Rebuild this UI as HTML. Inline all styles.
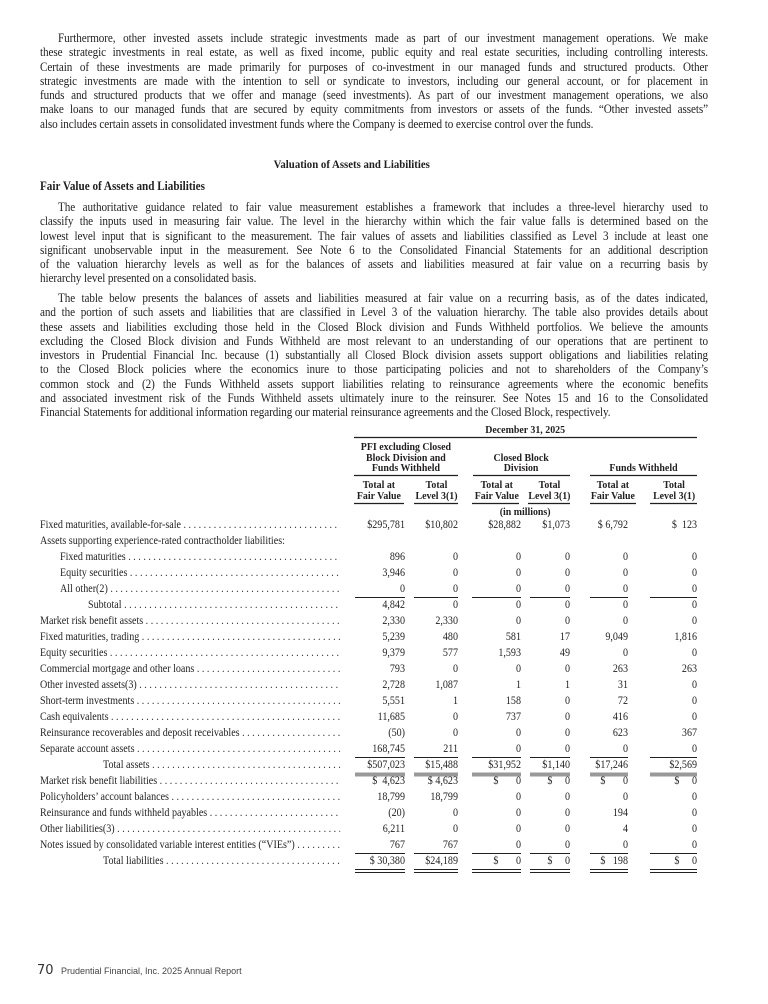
<!DOCTYPE html>
<html><head><meta charset="utf-8"><style>
html,body{margin:0;padding:0;background:#fff;}
body{width:768px;height:1004px;position:relative;overflow:hidden;color:#231f20;}
#w{position:absolute;left:0;top:0;width:853.33px;height:1004px;transform:scaleX(0.9);transform-origin:0 0;font-family:"Liberation Serif",serif;}
.p{position:absolute;left:44.44px;width:742.2px;font-size:12.4px;line-height:14.3px;letter-spacing:-0.1px;}
.p div{text-align:justify;text-align-last:justify;white-space:normal;height:14.3px;overflow:hidden;}
.p div.l{text-align-last:left;}
.t{position:absolute;font-size:11px;line-height:16px;white-space:nowrap;}
.lab{position:absolute;left:44.44px;width:331px;font-size:11.2px;line-height:16px;white-space:nowrap;overflow:hidden;}
.n{position:absolute;font-size:11.2px;line-height:16px;white-space:nowrap;text-align:right;}
.h{position:absolute;font-size:11px;line-height:10.5px;font-weight:bold;text-align:center;white-space:nowrap;}
svg{position:absolute;left:0;top:0;}
</style></head><body>
<div id="w">
<div class="p" style="top:31px">
<div style="text-indent:20px">Furthermore, other invested assets include strategic investments made as part of our investment management operations. We make</div>
<div>these strategic investments in real estate, as well as fixed income, public equity and real estate securities, including controlling interests.</div>
<div>Certain of these investments are made primarily for purposes of co-investment in our managed funds and structured products. Other</div>
<div>strategic investments are made with the intention to sell or syndicate to investors, including our general account, or for placement in</div>
<div>funds and structured products that we offer and manage (seed investments). As part of our investment management operations, we also</div>
<div>make loans to our managed funds that are secured by equity commitments from investors or assets of the funds. “Other invested assets”</div>
<div class="l">also includes certain assets in consolidated investment funds where the Company is deemed to exercise control over the funds.</div>
</div>
<div class="t" style="left:304px;top:156px;font-weight:bold;font-size:12px">Valuation of Assets and Liabilities</div>
<div class="t" style="left:44.44px;top:178px;font-weight:bold;font-size:12.4px">Fair Value of Assets and Liabilities</div>
<div class="p" style="top:200px">
<div style="text-indent:20px">The authoritative guidance related to fair value measurement establishes a framework that includes a three-level hierarchy used to</div>
<div>classify the inputs used in measuring fair value. The level in the hierarchy within which the fair value falls is determined based on the</div>
<div>lowest level input that is significant to the measurement. The fair values of assets and liabilities classified as Level 3 include at least one</div>
<div>significant unobservable input in the measurement. See Note 6 to the Consolidated Financial Statements for an additional description</div>
<div>of the valuation hierarchy levels as well as for the balances of assets and liabilities measured at fair value on a recurring basis by</div>
<div class="l">hierarchy level presented on a consolidated basis.</div>
</div>
<div class="p" style="top:291px">
<div style="text-indent:20px">The table below presents the balances of assets and liabilities measured at fair value on a recurring basis, as of the dates indicated,</div>
<div>and the portion of such assets and liabilities that are classified in Level 3 of the valuation hierarchy. The table also provides details about</div>
<div>these assets and liabilities excluding those held in the Closed Block division and Funds Withheld portfolios. We believe the amounts</div>
<div>excluding the Closed Block division and Funds Withheld are most relevant to an understanding of our operations that are pertinent to</div>
<div>investors in Prudential Financial Inc. because (1) substantially all Closed Block division assets support obligations and liabilities relating</div>
<div>to the Closed Block policies where the economics inure to those participating policies and not to shareholders of the Company’s</div>
<div>common stock and (2) the Funds Withheld assets support liabilities relating to reinsurance agreements where the economic benefits</div>
<div>and associated investment risk of the Funds Withheld assets ultimately inure to the reinsurer. See Notes 15 and 16 to the Consolidated</div>
<div class="l">Financial Statements for additional information regarding our material reinsurance agreements and the Closed Block, respectively.</div>
</div>

<div class="h" style="left:393px;width:381px;top:425px">December 31, 2025</div>
<div class="h" style="left:393px;width:116px;top:442px">PFI excluding Closed<br>Block Division and<br>Funds Withheld</div>
<div class="h" style="left:525px;width:108px;top:452.5px">Closed Block<br>Division</div>
<div class="h" style="left:655px;width:120px;top:463px">Funds Withheld</div>
<div class="h" style="left:393px;width:56px;top:480px">Total at<br>Fair Value</div>
<div class="h" style="left:460px;width:50px;top:480px">Total<br>Level 3(1)</div>
<div class="h" style="left:524px;width:56px;top:480px">Total at<br>Fair Value</div>
<div class="h" style="left:587px;width:47px;top:480px">Total<br>Level 3(1)</div>
<div class="h" style="left:655px;width:52px;top:480px">Total at<br>Fair Value</div>
<div class="h" style="left:724px;width:50px;top:480px">Total<br>Level 3(1)</div>
<div class="h" style="left:393px;width:381px;top:507px">(in millions)</div>

<div id="rows"></div>
</div>
<svg width="768" height="1004" id="s"></svg>
<div style="position:absolute;left:37px;top:963px;font-family:'DejaVu Sans','Liberation Sans',sans-serif;font-size:13px;color:#333">70</div>
<div style="position:absolute;left:61px;top:966px;font-family:'Liberation Sans',sans-serif;font-size:9px;color:#444">Prudential Financial, Inc. 2025 Annual Report</div>
<script>
var rows=[
["Fixed maturities, available-for-sale",40,525,["$295,781","$10,802","$28,882","$1,073","$ 6,792","$ &nbsp;123"]],
["Assets supporting experience-rated contractholder liabilities:",40,541,null],
["Fixed maturities",60,557,["896","0","0","0","0","0"]],
["Equity securities",60,573,["3,946","0","0","0","0","0"]],
["All other(2)",60,589,["0","0","0","0","0","0"]],
["Subtotal",88,605,["4,842","0","0","0","0","0"]],
["Market risk benefit assets",40,621,["2,330","2,330","0","0","0","0"]],
["Fixed maturities, trading",40,637,["5,239","480","581","17","9,049","1,816"]],
["Equity securities",40,653,["9,379","577","1,593","49","0","0"]],
["Commercial mortgage and other loans",40,669,["793","0","0","0","263","263"]],
["Other invested assets(3)",40,685,["2,728","1,087","1","1","31","0"]],
["Short-term investments",40,701,["5,551","1","158","0","72","0"]],
["Cash equivalents",40,717,["11,685","0","737","0","416","0"]],
["Reinsurance recoverables and deposit receivables",40,733,["(50)","0","0","0","623","367"]],
["Separate account assets",40,749,["168,745","211","0","0","0","0"]],
["Total assets",103,765,["$507,023","$15,488","$31,952","$1,140","$17,246","$2,569"]],
["Market risk benefit liabilities",40,781,["$ &nbsp;4,623","$ 4,623","$ &nbsp; &nbsp; &nbsp; 0","$ &nbsp; &nbsp; 0","$ &nbsp; &nbsp; &nbsp; 0","$ &nbsp; &nbsp; 0"]],
["Policyholders’ account balances",40,797,["18,799","18,799","0","0","0","0"]],
["Reinsurance and funds withheld payables",40,813,["(20)","0","0","0","194","0"]],
["Other liabilities(3)",40,829,["6,211","0","0","0","4","0"]],
["Notes issued by consolidated variable interest entities (“VIEs”)",40,845,["767","767","0","0","0","0"]],
["Total liabilities",103,861,["$ 30,380","$24,189","$ &nbsp; &nbsp; &nbsp; 0","$ &nbsp; &nbsp; 0","$ &nbsp; 198","$ &nbsp; &nbsp; 0"]]
];
var R=[405,458,521,570,628,697];
var dots=" . . . . . . . . . . . . . . . . . . . . . . . . . . . . . . . . . . . . . . . . . . . . . . . . . . . . . . . . . . .";
var h="";
rows.forEach(function(r){
 var top=(r[2]-8);
 if(r[3]){
  h+='<div class="lab" style="left:'+(r[1]/0.9)+'px;width:'+((340-r[1])/0.9)+'px;top:'+top+'px">'+r[0]+dots+'</div>';
  r[3].forEach(function(v,i){h+='<div class="n" style="right:'+((768-R[i])/0.9)+'px;top:'+top+'px">'+v+'</div>';});
 } else h+='<div class="lab" style="left:'+(r[1]/0.9)+'px;width:500px;top:'+top+'px">'+r[0]+'</div>';
});
document.getElementById('rows').innerHTML=h;
var C=[[355,405],[414,458],[472,521],[530,570],[590,628],[650,697]];
var H=[[354,404],[414,458],[472,519],[528,570],[590,636],[650,697]];
var s='<line x1="354" x2="697" y1="437.5" y2="437.5" stroke="#231f20" stroke-width="1.2"/>';
[[354,458],[473,570],[590,697]].forEach(function(g){s+='<line x1="'+g[0]+'" x2="'+g[1]+'" y1="475.5" y2="475.5" stroke="#231f20" stroke-width="1.2"/>';});
H.forEach(function(c){s+='<line x1="'+c[0]+'" x2="'+c[1]+'" y1="503.5" y2="503.5" stroke="#231f20" stroke-width="1.2"/>';});
C.forEach(function(c){
 [597.5,757.5,853.5].forEach(function(y){s+='<line x1="'+c[0]+'" x2="'+c[1]+'" y1="'+y+'" y2="'+y+'" stroke="#231f20" stroke-width="1"/>';});
 s+='<rect x="'+c[0]+'" y="772.5" width="'+(c[1]-c[0])+'" height="4" fill="#999"/>';
 s+='<line x1="'+c[0]+'" x2="'+c[1]+'" y1="869.5" y2="869.5" stroke="#231f20" stroke-width="1"/>';
 s+='<line x1="'+c[0]+'" x2="'+c[1]+'" y1="872.5" y2="872.5" stroke="#231f20" stroke-width="1"/>';
});
document.getElementById('s').innerHTML=s;
</script>
</body></html>
